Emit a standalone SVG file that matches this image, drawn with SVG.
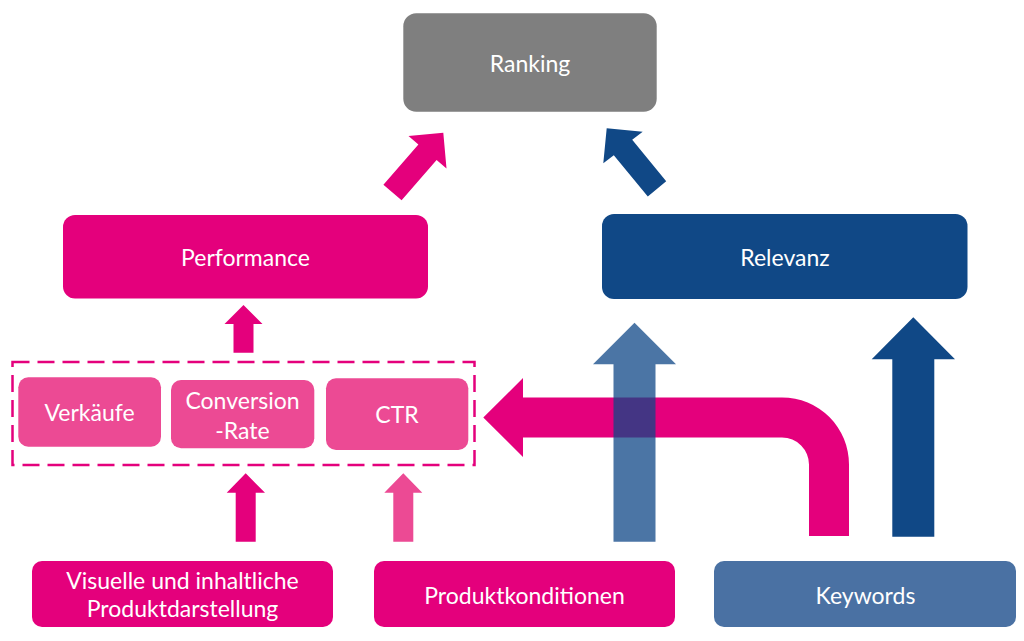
<svg xmlns="http://www.w3.org/2000/svg" width="1024" height="641" viewBox="0 0 1024 641">
<style>
.t{font-family:Lato,"Open Sans","Liberation Sans",sans-serif;font-size:23px;fill:#ffffff;text-anchor:middle;dominant-baseline:central}
.pink{fill:#E4007C}
.lpink{fill:#EC4A94}
.dblue{fill:#104886}
.lblue{fill:#4A71A3}
.gray{fill:#7F7F7F}
</style>
<rect width="1024" height="641" fill="#ffffff"/>
<g id="connectors">
<polygon class="pink" points="443.3,132.7 446.5,168.4 436.6,159.9 401.6,200.2 383.4,184.8 418.4,144.5 408.5,136"/>
<polygon class="dblue" points="606.7,128.3 642.7,131.7 632.2,139.8 666.2,181.2 647.8,196.6 613.8,155.2 603.3,163.3"/>
<polygon class="pink" points="243.5,305 262.5,324 253.5,324 253.5,352.7 233.5,352.7 233.5,324 224.5,324"/>
<polygon class="pink" points="245.7,473.3 265,492.7 255.7,492.7 255.7,541.7 235.7,541.7 235.7,492.7 226.7,492.7"/>
<polygon class="lpink" points="403.3,473.3 422.3,492.7 413.3,492.7 413.3,541.7 393.3,541.7 393.3,492.7 384.3,492.7"/>
<path class="pink" d="M849,536 L849,464.5 A67,67 0 0 0 782,397.5 L523,397.5 L523,378 L483.3,417.5 L523,457 L523,437.5 L782,437.5 A27,27 0 0 1 809,464.5 L809,536 Z"/>
<polygon fill="#0F4787" fill-opacity="0.75" points="634.5,322.7 676,364.3 655.5,364.3 655.5,541.7 613.5,541.7 613.5,364.3 593,364.3"/>
<polygon class="dblue" points="913.3,317.3 955,359.3 934.3,359.3 934.3,536.7 892.3,536.7 892.3,359.3 871.7,359.3"/>
</g>
<g id="ranking"><rect class="gray" x="403.3" y="13.3" width="253.4" height="98.4" rx="13"/><text class="t" x="530" y="62.5">Ranking</text></g>
<g id="performance"><rect class="pink" x="63" y="215" width="365" height="83.5" rx="12"/><text class="t" x="245.5" y="257">Performance</text></g>
<g id="relevanz"><rect class="dblue" x="602" y="214" width="365.5" height="85" rx="12"/><text class="t" x="785" y="257">Relevanz</text></g>
<g id="group"><rect x="12.5" y="362" width="462" height="103" fill="none" stroke="#E4007C" stroke-width="2.5" stroke-dasharray="17 8"/></g>
<g id="verkaeufe"><rect class="lpink" x="18.3" y="377.3" width="142.7" height="69.4" rx="10"/><text class="t" x="89.5" y="412">Verkäufe</text></g>
<g id="conversion"><rect class="lpink" x="171" y="380" width="143.3" height="68.3" rx="10"/><text class="t" x="242.5" y="400">Conversion</text><text class="t" x="242.5" y="430">-Rate</text></g>
<g id="ctr"><rect class="lpink" x="326" y="378.3" width="142.3" height="71.7" rx="10"/><text class="t" x="397" y="414">CTR</text></g>
<g id="visuelle"><rect class="pink" x="32" y="561" width="301" height="66" rx="10"/><text class="t" x="182.5" y="580">Visuelle und inhaltliche</text><text class="t" x="182.5" y="608">Produktdarstellung</text></g>
<g id="produktkonditionen"><rect class="pink" x="374" y="561" width="301" height="66" rx="10"/><text class="t" x="524.5" y="595">Produktkonditionen</text></g>
<g id="keywords"><rect class="lblue" x="714" y="561" width="302" height="66" rx="10"/><text class="t" x="865.5" y="595">Keywords</text></g>
</svg>
